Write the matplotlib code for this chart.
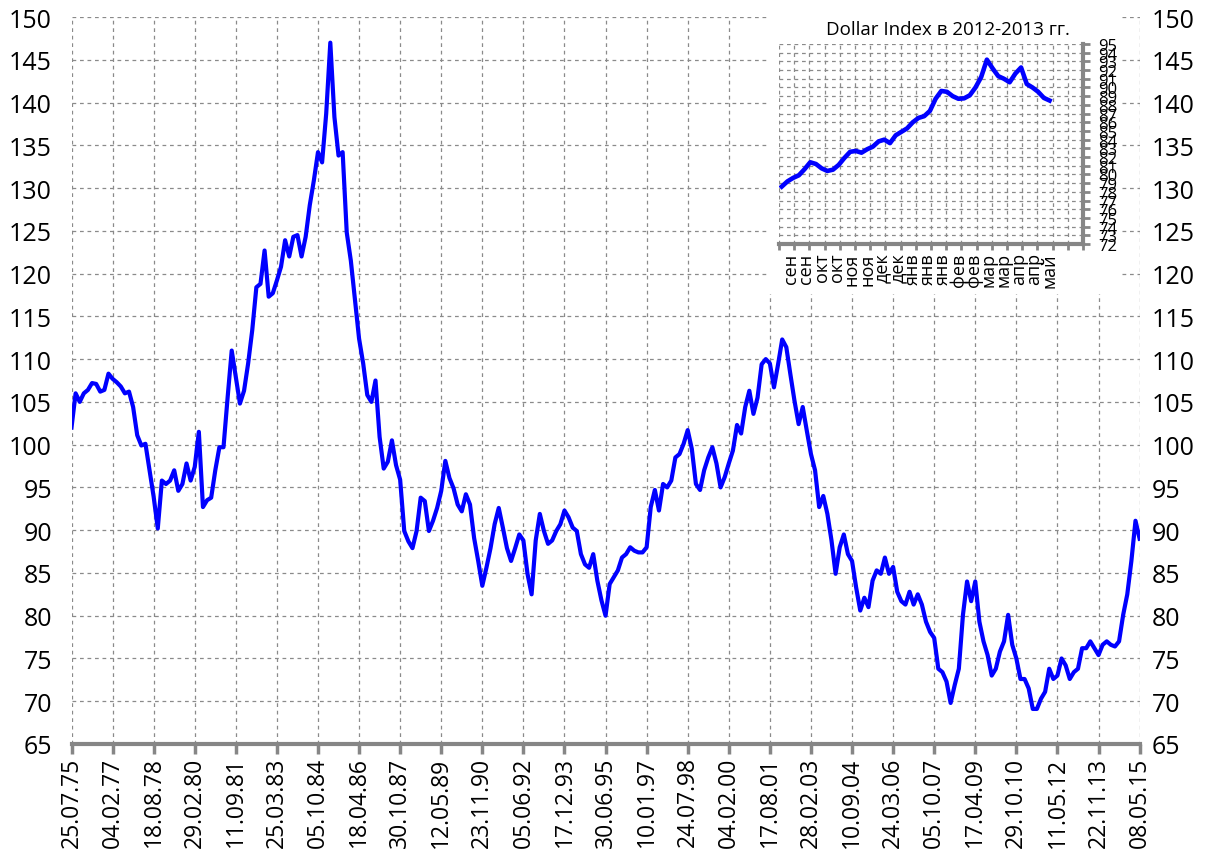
import numpy as np
import matplotlib
matplotlib.use('Agg')
import matplotlib.pyplot as plt
from matplotlib.patches import Rectangle

plt.rcParams['font.family'] = ['Open Sans', 'DejaVu Sans']

# ---------------- data ----------------
x_tick_labels = ['25.07.75', '04.02.77', '18.08.78', '29.02.80', '11.09.81', '25.03.83',
                 '05.10.84', '18.04.86', '30.10.87', '12.05.89', '23.11.90', '05.06.92',
                 '17.12.93', '30.06.95', '10.01.97', '24.07.98', '04.02.00', '17.08.01',
                 '28.02.03', '10.09.04', '24.03.06', '05.10.07', '17.04.09', '29.10.10',
                 '11.05.12', '22.11.13', '08.05.15']
samples_per_label = 10

dollar_index = [
    102.0, 106.0, 105.0, 106.0, 106.4, 107.2, 107.1, 106.2, 106.4, 108.3,
    107.7, 107.3, 106.8, 106.0, 106.2, 104.4, 101.1, 99.9, 100.1, 97.0,
    93.9, 90.2, 95.8, 95.4, 95.8, 97.0, 94.6, 95.4, 97.8, 95.8,
    97.4, 101.5, 92.7, 93.5, 93.8, 97.0, 99.7, 99.7, 105.5, 111.0,
    107.9, 104.8, 106.3, 109.5, 113.4, 118.4, 118.8, 122.7, 117.3, 117.7,
    119.2, 120.8, 123.9, 122.0, 124.3, 124.5, 122.0, 124.3, 128.0, 130.9,
    134.2, 133.0, 138.7, 147.0, 138.3, 133.8, 134.2, 124.8, 121.5, 116.9,
    112.4, 109.5, 105.8, 105.0, 107.5, 100.9, 97.2, 98.0, 100.5, 97.6,
    95.9, 89.9, 88.7, 87.9, 89.9, 93.8, 93.4, 89.9, 91.1, 92.6,
    94.6, 98.1, 96.1, 94.9, 93.0, 92.2, 94.2, 93.0, 89.1, 86.4,
    83.5, 85.6, 87.9, 90.7, 92.6, 90.3, 87.9, 86.4, 87.9, 89.5,
    88.8, 84.9, 82.5, 88.8, 91.9, 89.9, 88.4, 88.8, 89.9, 90.7,
    92.3, 91.5, 90.3, 89.9, 87.2, 86.0, 85.6, 87.2, 84.1, 81.8,
    80.0, 83.7, 84.5, 85.3, 86.8, 87.2, 88.0, 87.6, 87.4, 87.4,
    88.0, 92.7, 94.7, 92.3, 95.4, 95.0, 95.8, 98.5, 98.9, 100.1,
    101.7, 99.5, 95.4, 94.7, 97.0, 98.5, 99.7, 97.8, 95.0, 96.2,
    97.8, 99.3, 102.3, 101.3, 104.4, 106.3, 103.6, 105.5, 109.4, 110.0,
    109.5, 106.7, 109.4, 112.3, 111.4, 108.2, 105.1, 102.4, 104.4, 101.6,
    98.9, 97.0, 92.7, 94.0, 91.9, 88.8, 84.9, 88.0, 89.5, 87.2,
    86.4, 83.3, 80.6, 82.1, 81.0, 84.1, 85.3, 84.9, 86.8, 84.9,
    85.7, 82.8, 81.7, 81.3, 82.8, 81.3, 82.5, 81.3, 79.3, 78.1,
    77.4, 73.8, 73.4, 72.3, 69.8, 71.9, 73.8, 80.1, 84.0, 81.7,
    84.0, 79.3, 77.0, 75.4, 73.0, 73.8, 75.8, 77.0, 80.1, 76.6,
    75.0, 72.6, 72.6, 71.5, 69.1, 69.1, 70.3, 71.1, 73.8, 72.6,
    73.0, 75.0, 74.2, 72.6, 73.4, 73.8, 76.2, 76.2, 77.0, 76.2,
    75.4, 76.6, 77.0, 76.6, 76.4, 77.0, 80.1, 82.5, 86.4, 91.1,
    89.0,
]

inset_title = 'Dollar Index в 2012-2013 гг.'
inset_categories = ['сен', 'сен', 'окт', 'окт', 'ноя', 'ноя', 'дек', 'дек', 'янв', 'янв',
                    'янв', 'фев', 'фев', 'мар', 'мар', 'апр', 'апр', 'май', '', '']
inset_values = [
    78.6, 79.2, 79.6, 79.9, 80.6, 81.4, 81.2, 80.7, 80.4, 80.55,
    81.1, 81.9, 82.6, 82.7, 82.5, 82.9, 83.2, 83.8, 84.0, 83.6,
    84.5, 84.9, 85.3, 86.0, 86.5, 86.7, 87.3, 88.7, 89.6, 89.5,
    89.0, 88.7, 88.75, 89.1, 90.0, 91.2, 93.2, 92.2, 91.3, 91.0,
    90.6, 91.6, 92.3, 90.4, 90.0, 89.5, 88.8, 88.5,
]
inset_first, inset_last = 0.18, 17.8   # first / last observation, in category units

# ---------------- figure ----------------
W, H = 1205, 853
fig = plt.figure(figsize=(W / 100, H / 100), dpi=100)
fig.patch.set_facecolor('white')


def fx(px):
    return px / W


def fy(py):
    return 1 - py / H


grid_kw = dict(color='#8a8a8a', linestyle=(0, (3, 3)), linewidth=0.9)
axis_gray = '#868686'
blue = '#0000FF'

ax = fig.add_axes([fx(71.5), fy(745), fx(1139.6) - fx(71.5), fy(18) - fy(745)])
n = len(dollar_index)
xs = np.arange(n)
ax.plot(xs, dollar_index, color=blue, lw=3.0, solid_joinstyle='round', zorder=3)
ax.set_xlim(0, n - 1)
ax.set_ylim(65, 150)
ax.set_yticks(range(65, 151, 5))
ax.set_xticks(np.arange(0, n, samples_per_label)[:len(x_tick_labels)])
ax.set_xticklabels(x_tick_labels, rotation=90, fontsize=16.5)
ax.grid(True, **grid_kw)
ax.set_axisbelow(True)
for s in ['left', 'right', 'top']:
    ax.spines[s].set_visible(False)
ax.spines['bottom'].set_color(axis_gray)
ax.spines['bottom'].set_linewidth(3)
ax.spines['bottom'].set_zorder(4)
ax.tick_params(axis='x', length=7, width=2.5, color=axis_gray, pad=2)
ax.tick_params(axis='y', length=0, pad=14, labelsize=18)

ax2 = ax.twinx()
ax2.set_ylim(65, 150)
ax2.set_yticks(range(65, 151, 5))
for s in ['left', 'right', 'top', 'bottom']:
    ax2.spines[s].set_visible(False)
ax2.tick_params(axis='y', length=0, pad=9, labelsize=18)

# white chart area of the inset
fig.add_artist(Rectangle((fx(768), fy(295)), fx(1122) - fx(768), fy(12) - fy(295),
                         transform=fig.transFigure, facecolor='white', edgecolor='none',
                         zorder=5))

axi = fig.add_axes([fx(779), fy(245), fx(1083) - fx(779), fy(45) - fy(245)], zorder=6)
xi = np.linspace(inset_first, inset_last, len(inset_values))
axi.plot(xi, inset_values, color=blue, lw=3.3, solid_joinstyle='round', zorder=3)
ncat = len(inset_categories)
axi.set_xlim(0, ncat)
axi.set_ylim(72, 95)
axi.set_yticks(range(72, 96))
axi.yaxis.tick_right()
axi.set_xticks(np.arange(0, ncat + 1))
axi.set_xticklabels([])
axi.set_xticks(np.arange(ncat) + 0.8, minor=True)
axi.set_xticklabels(inset_categories, minor=True, rotation=90, fontsize=13)
axi.tick_params(axis='x', which='minor', length=0, pad=6)
axi.tick_params(axis='x', which='major', length=4, width=2, color=axis_gray)
axi.tick_params(axis='y', length=5, width=2, color=axis_gray, labelsize=12, pad=6)
axi.grid(True, **grid_kw)
axi.set_axisbelow(True)
for s in ['left', 'top']:
    axi.spines[s].set_visible(False)
for s in ['bottom', 'right']:
    axi.spines[s].set_color(axis_gray)
    axi.spines[s].set_linewidth(3)

fig.text(fx(948), fy(30), inset_title, ha='center', va='center', fontsize=13.5, zorder=7)

fig.savefig('out.png', dpi=100)
